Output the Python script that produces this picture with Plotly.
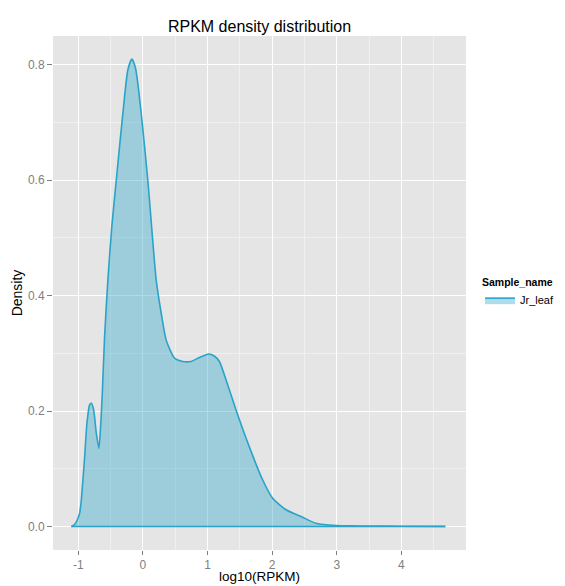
import plotly.graph_objects as go

# Density curve of log10(RPKM) for sample Jr_leaf
log10_rpkm = [-1.106, -1.06, -1.02, -0.978, -0.952, -0.927, -0.900, -0.865, -0.823, -0.797,
              -0.761, -0.720, -0.680, -0.653, -0.627, -0.592, -0.541, -0.480, -0.411, -0.309,
              -0.232, -0.170, -0.113, -0.025, 0.077, 0.207, 0.284, 0.361, 0.490, 0.618,
              0.747, 0.876, 1.019, 1.110, 1.185, 1.288, 1.442, 1.648, 1.853, 2.008,
              2.215, 2.471, 2.678, 2.987, 3.200, 3.500, 4.000, 4.680]
density = [0.0, 0.003, 0.010, 0.023, 0.046, 0.081, 0.121, 0.179, 0.211, 0.2135,
           0.202, 0.162, 0.1355, 0.173, 0.231, 0.329, 0.427, 0.520, 0.600, 0.716,
           0.791, 0.810, 0.794, 0.716, 0.600, 0.427, 0.370, 0.323, 0.292, 0.286,
           0.286, 0.293, 0.299, 0.295, 0.286, 0.254, 0.202, 0.138, 0.081, 0.049,
           0.029, 0.016, 0.0055, 0.0015, 0.0012, 0.0008, 0.0005, 0.0003]
sample_name = "Jr_leaf"
x_ticks = [-1, 0, 1, 2, 3, 4]
y_ticks = [0.0, 0.2, 0.4, 0.6, 0.8]
y_tick_labels = ["0.0", "0.2", "0.4", "0.6", "0.8"]

line_col = "#2AA3C9"
fill_col = "rgba(40,165,200,0.38)"

# the page body has an 8px margin, so the figure is 8px smaller and margins compensate
W, H = 557, 578
PANEL_H = H - 28 - 36

fig = go.Figure()
fig.add_trace(go.Scatter(
    x=log10_rpkm, y=density, mode="lines", fill="tozeroy",
    fillcolor=fill_col, line=dict(color=line_col, width=1.6, shape="spline", smoothing=0.6),
    name=sample_name, showlegend=True))
# baseline of the density polygon
fig.add_trace(go.Scatter(
    x=[log10_rpkm[0], log10_rpkm[-1]], y=[0, 0], mode="lines",
    line=dict(color=line_col, width=1.6), showlegend=False, hoverinfo="skip"))

fig.update_layout(
    width=W, height=H,
    margin=dict(l=45, r=99, t=28, b=36, pad=0, autoexpand=False),
    paper_bgcolor="white", plot_bgcolor="#E5E5E5",
    font=dict(family="Liberation Sans, Arial, sans-serif", color="black"),
    title=dict(text="RPKM density distribution", x=0.5, xref="paper", xanchor="center",
               y=1 - 18 / H, yref="container", yanchor="middle",
               font=dict(size=16, color="black")),
    legend=dict(title=dict(text="<b>Sample_name</b>", font=dict(size=10.5)),
                xref="container", yref="container",
                x=472 / W, xanchor="left", y=1 - 264 / H, yanchor="top",
                font=dict(size=11), bgcolor="rgba(0,0,0,0)", tracegroupgap=0,
                itemwidth=30),
    showlegend=True,
    annotations=[dict(text="log10(RPKM)", xref="paper", yref="paper",
                      x=0.5, y=-26.5 / PANEL_H, xanchor="center", yanchor="middle",
                      borderpad=0, showarrow=False, font=dict(size=13.5, color="black"))],
)
fig.update_xaxes(
    range=[-1.39, 5.0], tickvals=x_ticks, ticktext=[str(v) for v in x_ticks],
    showgrid=True, gridcolor="white", gridwidth=1.2, zeroline=False,
    minor=dict(dtick=0.5, tick0=-0.5, showgrid=True, gridcolor="#F0F0F0", gridwidth=0.6, ticks=""),
    ticks="outside", ticklen=4, tickcolor="#7F7F7F", tickwidth=1,
    tickfont=dict(size=12, color="#7F7F7F"),
    showline=False, automargin=False,
)
fig.update_yaxes(
    range=[-0.0407, 0.850], tickvals=y_ticks, ticktext=y_tick_labels,
    showgrid=True, gridcolor="white", gridwidth=1.2, zeroline=False,
    minor=dict(dtick=0.1, tick0=0.1, showgrid=True, gridcolor="#F0F0F0", gridwidth=0.6, ticks=""),
    ticks="outside", ticklen=5, tickcolor="#7F7F7F", tickwidth=1,
    tickfont=dict(size=12, color="#7F7F7F"),
    title=dict(text="Density", font=dict(size=14), standoff=2),
    showline=False, automargin=False,
)

fig.write_html("out.html")
